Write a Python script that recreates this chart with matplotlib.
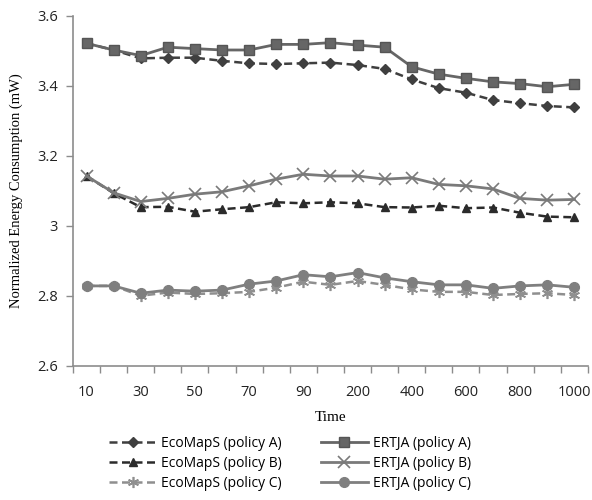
import numpy as np
import matplotlib.pyplot as plt

# eje x categorico (los valores de tiempo no estan espaciados proporcionalmente)
tiempos = ['10', '20', '30', '40', '50', '60', '70', '80', '90', '100',
           '200', '300', '400', '500', '600', '700', '800', '900', '1000']
etiquetas_x = ['10', '', '30', '', '50', '', '70', '', '90', '',
               '200', '', '400', '', '600', '', '800', '', '1000']

eco_a = [3.521, 3.502, 3.478, 3.480, 3.480, 3.471, 3.464, 3.462, 3.464, 3.466,
         3.459, 3.448, 3.418, 3.393, 3.380, 3.359, 3.350, 3.342, 3.338]
ertja_a = [3.521, 3.502, 3.486, 3.510, 3.506, 3.502, 3.502, 3.518, 3.518, 3.523,
           3.516, 3.510, 3.454, 3.433, 3.421, 3.411, 3.406, 3.397, 3.404]
eco_b = [3.142, 3.093, 3.053, 3.054, 3.040, 3.047, 3.053, 3.067, 3.064, 3.067,
         3.064, 3.053, 3.052, 3.057, 3.050, 3.052, 3.037, 3.026, 3.024]
ertja_b = [3.142, 3.094, 3.069, 3.078, 3.090, 3.097, 3.114, 3.133, 3.147, 3.142,
           3.142, 3.133, 3.137, 3.118, 3.114, 3.105, 3.078, 3.073, 3.075]
eco_c = [2.828, 2.828, 2.800, 2.809, 2.805, 2.807, 2.811, 2.823, 2.840, 2.831,
         2.842, 2.831, 2.818, 2.811, 2.811, 2.802, 2.805, 2.807, 2.802]
ertja_c = [2.828, 2.828, 2.807, 2.816, 2.813, 2.816, 2.833, 2.842, 2.860, 2.854,
           2.866, 2.851, 2.840, 2.831, 2.831, 2.821, 2.828, 2.831, 2.824]

x = np.arange(len(tiempos))

fig = plt.figure(figsize=(5.92, 5.0), dpi=100)
ax = fig.add_axes([0.1233, 0.2686, 0.8697, 0.70])

# primero las de EcoMapS (punteadas) y luego ERTJA (solidas)
guion = (3.2, 1.8)
ax.plot(x, eco_a, '--', dashes=guion, color='#3f3f3f', lw=1.8, marker='D', ms=5,
        mfc='#3f3f3f', mec='#3f3f3f', label='EcoMapS (policy A)')
ax.plot(x, eco_b, '--', dashes=guion, color='#2b2b2b', lw=1.8, marker='^', ms=6,
        mfc='#2b2b2b', mec='#2b2b2b', label='EcoMapS (policy B)')
ax.plot(x, eco_c, '--', dashes=guion, color='#8f8f8f', lw=1.8, marker=(6, 2, 0), ms=8,
        mfc='#8f8f8f', mec='#8f8f8f', mew=1.2, label='EcoMapS (policy C)')
ax.plot(x, ertja_a, '-', color='#666666', lw=2, marker='s', ms=6.5,
        mfc='#666666', mec='#555555', label='ERTJA (policy A)')
ax.plot(x, ertja_b, '-', color='#7a7a7a', lw=2, marker='x', ms=8,
        mfc='none', mec='#7a7a7a', mew=1.2, label='ERTJA (policy B)')
ax.plot(x, ertja_c, '-', color='#7f7f7f', lw=2, marker='o', ms=7,
        mfc='#7f7f7f', mec='#7f7f7f', label='ERTJA (policy C)')

ax.set_xlim(-0.5, len(tiempos) - 0.5)
ax.set_ylim(2.6, 3.6)
ax.set_yticks([2.6, 2.8, 3.0, 3.2, 3.4, 3.6])
ax.set_yticklabels(['2.6', '2.8', '3', '3.2', '3.4', '3.6'])
ax.set_xticks(x)
ax.set_xticklabels(etiquetas_x)
# las marcas del eje x van entre categorias
ax.set_xticks(np.arange(-0.5, len(tiempos), 1), minor=True)
ax.tick_params(axis='x', which='major', length=0, pad=14)
ax.tick_params(axis='x', which='minor', length=5, color='#8c8c8c', width=1)
ax.tick_params(axis='y', length=5, color='#8c8c8c', width=1, pad=6)
for lbl in ax.get_xticklabels() + ax.get_yticklabels():
    lbl.set_fontfamily('Open Sans')
    lbl.set_fontsize(10.5)
    lbl.set_color('#222222')

for s in ['top', 'right']:
    ax.spines[s].set_visible(False)
for s in ['left', 'bottom']:
    ax.spines[s].set_color('#8c8c8c')
    ax.spines[s].set_linewidth(1.2)

ax.set_xlabel('Time', family='Liberation Serif', fontsize=11, labelpad=8)
ax.set_ylabel('Normalized Energy Consumption (mW)', family='Liberation Serif',
              fontsize=10.5, labelpad=10)

fig.legend(loc='upper center', bbox_to_anchor=(0.49, 0.153), ncol=2,
           frameon=False, handlelength=3.4, columnspacing=2.8,
           labelspacing=0.35, handletextpad=0.35,
           prop={'family': 'Open Sans', 'size': 10})

fig.savefig('out.png', dpi=100)
